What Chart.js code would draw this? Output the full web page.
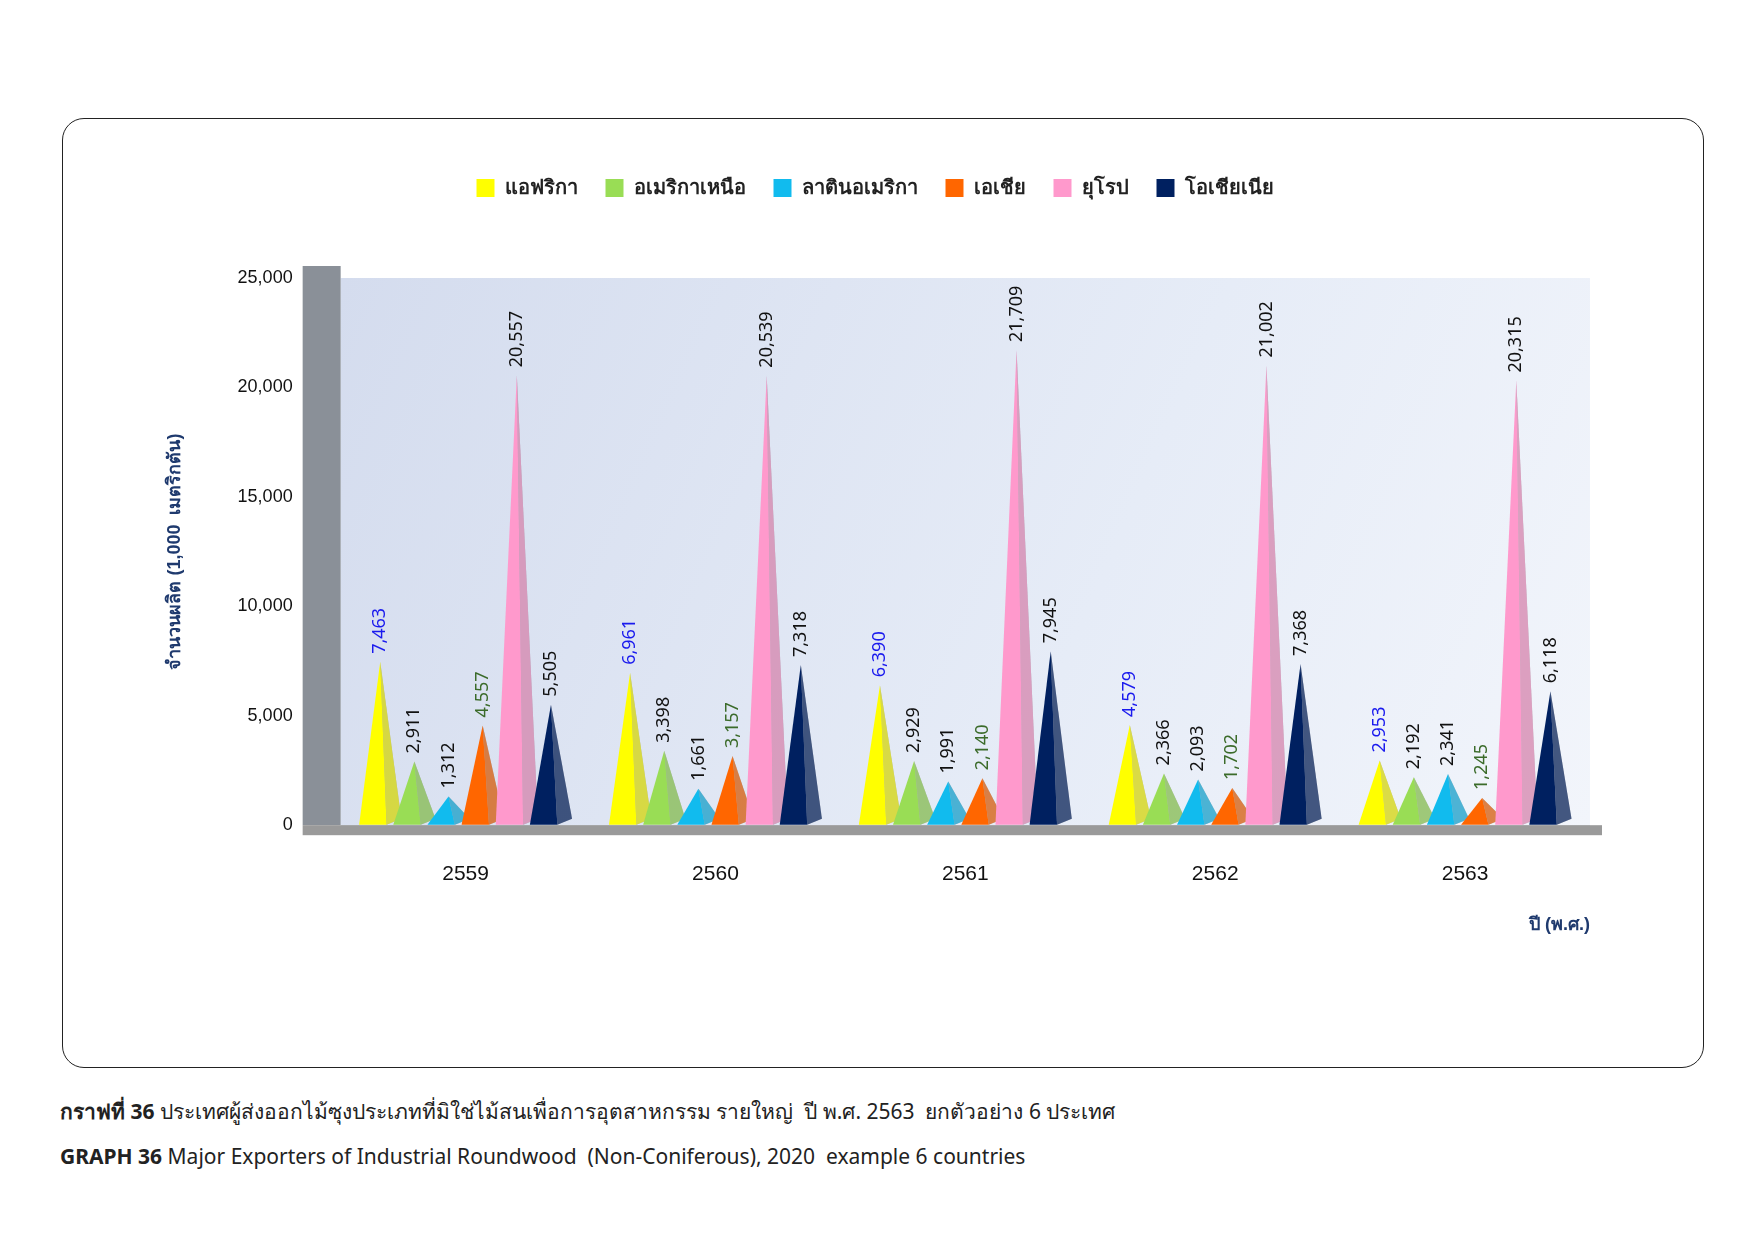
<!DOCTYPE html>
<html><head><meta charset="utf-8">
<script src="https://cdn.jsdelivr.net/npm/chart.js@4/dist/chart.umd.min.js"></script>
<style>
body{margin:0;background:#fff;font-family:"Noto Sans","DejaVu Sans",sans-serif;}
#box{position:absolute;left:62px;top:118px;width:1640px;height:948px;border:1.5px solid #222;border-radius:22px;}
#wrap{position:absolute;left:150px;top:150px;width:1470px;height:830px;}
.cap{position:absolute;left:60px;font-size:21px;color:#222;}
</style></head><body>
<div id="box"></div>
<div id="wrap"><canvas id="c"></canvas></div>
<div class="cap" style="top:1095px"><b>กราฟที่ 36</b> ประเทศผู้ส่งออกไม้ซุงประเภทที่มิใช่ไม้สนเพื่อการอุตสาหกรรม รายใหญ่ &nbsp;ปี พ.ศ. 2563 &nbsp;ยกตัวอย่าง 6 ประเทศ</div>
<div class="cap" style="top:1142px"><b>GRAPH 36</b> Major Exporters of Industrial Roundwood &nbsp;(Non-Coniferous), 2020 &nbsp;example 6 countries</div>
<script>
// ข้อมูล
const years = ["2559", "2560", "2561", "2562", "2563"];
const africa = [7463, 6961, 6390, 4579, 2953];
const northAmerica = [2911, 3398, 2929, 2366, 2192];
const latinAmerica = [1312, 1661, 1991, 2093, 2341];
const asia = [4557, 3157, 2140, 1702, 1245];
const europe = [20557, 20539, 21709, 21002, 20315];
const oceania = [5505, 7318, 7945, 7368, 6118];
const seriesNames = ["แอฟริกา", "อเมริกาเหนือ", "ลาตินอเมริกา", "เอเชีย", "ยุโรป", "โอเชียเนีย"];
const colors = ["#ffff00", "#99dd55", "#11bbee", "#ff6600", "#ff99cc", "#002060"];
const labelColors = ["#1a1aee", "#111", "#111", "#3b6b2a", "#111", "#111"];

const wallPlugin = {
  id: "wall",
  beforeDatasetsDraw(chart) {
    const { ctx, chartArea: a } = chart;
    const g = ctx.createLinearGradient(a.left, a.top, a.right, a.bottom);
    g.addColorStop(0, "#d4dcee"); g.addColorStop(0.6, "#e6ecf7"); g.addColorStop(1, "#f2f5fb");
    ctx.save();
    ctx.fillStyle = g; ctx.fillRect(a.left, a.top, a.right - a.left, a.bottom - a.top);
    ctx.fillStyle = "#8a9098"; ctx.fillRect(a.left - 38, a.top - 12, 38, a.bottom - a.top + 12);
    ctx.fillStyle = "#9a9a9a"; ctx.fillRect(a.left - 38, a.bottom, a.right - a.left + 50, 10);
    ctx.restore();
  }
};

const pyramidPlugin = {
  id: "pyramid",
  afterDatasetsDraw(chart) {
    const ctx = chart.ctx;
    chart.data.datasets.forEach((ds, i) => {
      chart.getDatasetMeta(i).data.forEach((bar, j) => {
        const w = bar.width * 1.3, x = bar.x, y = bar.y, b = bar.base;
        ctx.save();
        ctx.fillStyle = ds.backgroundColor;
        ctx.beginPath(); ctx.moveTo(x - w / 2, b); ctx.lineTo(x, y); ctx.lineTo(x + w * 0.15, b); ctx.closePath(); ctx.fill();
        ctx.fillStyle = "rgba(0,0,0,0.3)";
        ctx.beginPath(); ctx.moveTo(x + w * 0.15, b); ctx.lineTo(x, y); ctx.lineTo(x + w / 2, b - 6); ctx.closePath(); ctx.fill();
        ctx.fillStyle = ds.backgroundColor; ctx.globalAlpha = 0.6;
        ctx.beginPath(); ctx.moveTo(x + w * 0.15, b); ctx.lineTo(x, y); ctx.lineTo(x + w / 2, b - 6); ctx.closePath(); ctx.fill();
        ctx.globalAlpha = 1;
        ctx.translate(x, y - 8); ctx.rotate(-Math.PI / 2);
        ctx.fillStyle = labelColors[i]; ctx.font = "18px 'Noto Sans'";
        ctx.textBaseline = "middle";
        ctx.fillText(ds.data[j].toLocaleString("en-US"), 0, 0);
        ctx.restore();
      });
    });
  }
};

const legendGap = {
  id: "legendGap",
  beforeInit(chart) {
    const fit = chart.legend.fit;
    chart.legend.fit = function () { fit.bind(chart.legend)(); this.height += 70; };
  }
};

const data = [africa, northAmerica, latinAmerica, asia, europe, oceania];
new Chart(document.getElementById("c"), {
  type: "bar",
  data: {
    labels: years,
    datasets: data.map((d, i) => ({ label: seriesNames[i], data: d, backgroundColor: colors[i] })),
  },
  options: {
    responsive: true, maintainAspectRatio: false, animation: false,
    layout: { padding: { left: 10, right: 30, top: 0, bottom: 40 } },
    datasets: { bar: { categoryPercentage: 0.82, barPercentage: 0.95 } },
    plugins: {
      legend: { position: "top", labels: { boxWidth: 18, boxHeight: 18, font: { size: 20, weight: "bold" }, color: "#222", padding: 28 } },
      tooltip: { enabled: false },
      title: { display: false },
    },
    scales: {
      y: {
        min: 0, max: 25000,
        ticks: { stepSize: 5000, font: { size: 18 }, color: "#111", padding: 48, callback: v => v.toLocaleString("en-US") },
        grid: { color: "#d5d8dd", drawTicks: false },
        border: { display: false },
        title: { display: true, text: "จำนวนผลิต (1,000  เมตริกตัน)", color: "#1f3a6e", font: { size: 18, weight: "bold" } },
      },
      x: {
        ticks: { font: { size: 21 }, color: "#111", padding: 28 },
        grid: { display: false },
        border: { display: false },
        title: { display: true, text: "ปี (พ.ศ.)", align: "end", color: "#1f3a6e", font: { size: 18, weight: "bold" }, padding: { top: 0 } },
      },
    },
  },
  plugins: [wallPlugin, pyramidPlugin, legendGap, {
    id: "hideBars",
    beforeDatasetDraw() { return false; }
  }],
});
</script>
</body></html>
